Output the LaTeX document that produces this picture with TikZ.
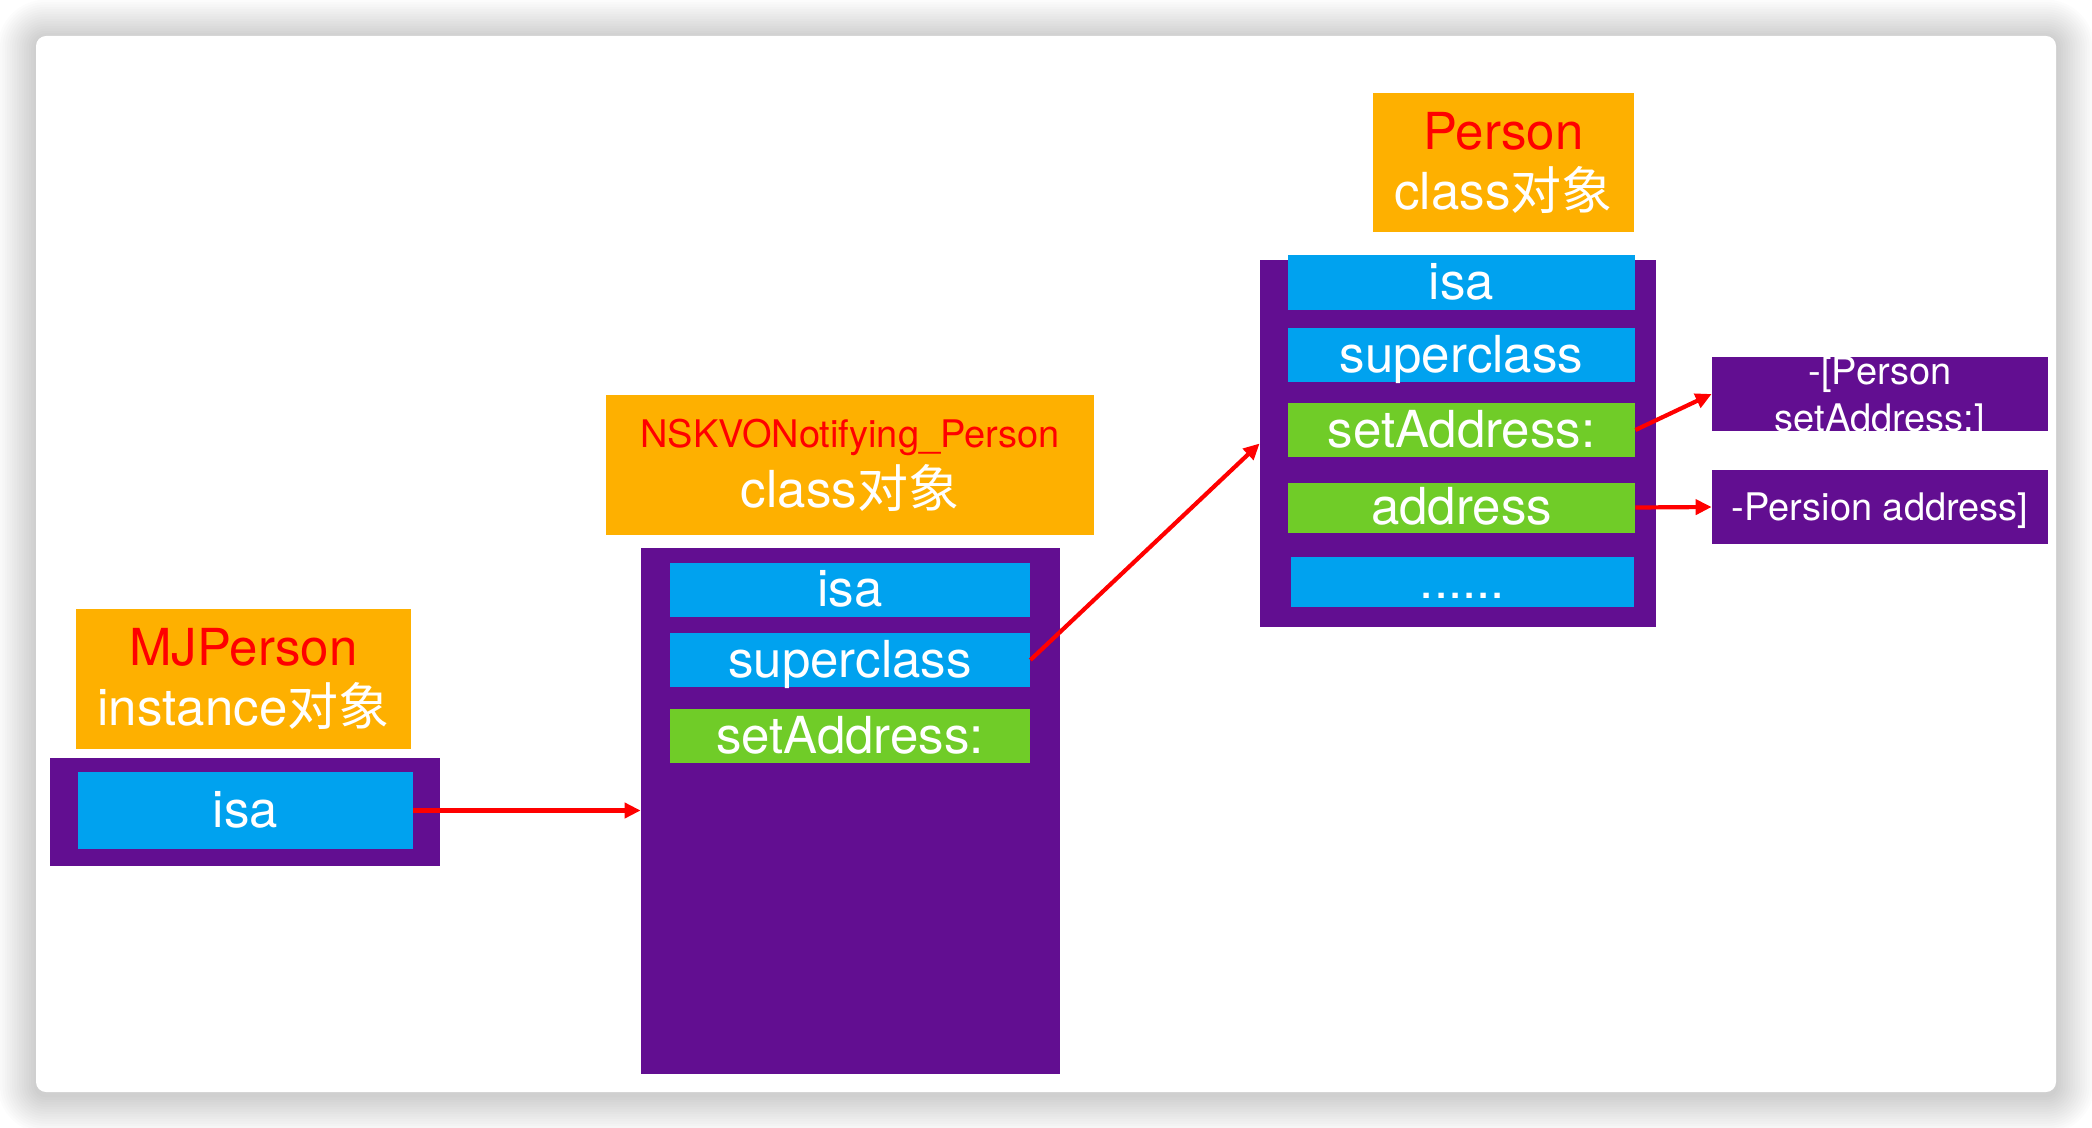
\documentclass[tikz,border=0pt]{standalone}
\usepackage{fontspec}
\setmainfont{TeX Gyre Heros}
\newfontfamily\zhfont{Noto Sans CJK SC}
\newcommand\zh[1]{{\zhfont #1}}
\usetikzlibrary{arrows.meta}
\usepackage{xcolor}
\definecolor{headorange}{RGB}{254,176,0}
\definecolor{boxpurple}{RGB}{98,14,145}
\definecolor{slotblue}{RGB}{0,162,239}
\definecolor{slotgreen}{RGB}{112,204,40}

\begin{document}
\begin{tikzpicture}[x=0.5pt,y=-0.5pt,
  head/.style={fill=headorange,inner sep=0pt,align=center,text=white,font=\fontsize{25.5}{30}\selectfont},
  frame/.style={fill=boxpurple,inner sep=0pt},
  slot/.style={inner sep=0pt,text=white,font=\fontsize{25.5}{30}\selectfont,text height=21pt,text depth=4pt},
  impbox/.style={fill=boxpurple,inner sep=0pt,text=white,font=\fontsize{19}{23.5}\selectfont},
  ptr/.style={red,line width=2.1pt,-{Triangle[length=8pt,width=7.5pt]}}]
  \useasboundingbox (0,0) rectangle (2092,1128);
  \fill[white] (0,0) rectangle (2092,1128);
  % card with soft shadow
  \foreach \i [evaluate=\i as \r using 5+1.2*\i] in {1,...,16}
    \fill[black,opacity=0.011,rounded corners=\r pt] (36-2.4*\i,38-2.4*\i) rectangle (2056+2.4*\i,1095+2.4*\i);
  \fill[white,rounded corners=5pt] (36,36) rectangle (2056,1092);

  % MJPerson instance
  \node[head,minimum width=167.5pt,minimum height=70pt] (mjhead) at (243.5,679) {\textcolor{red}{MJPerson}\\instance\zh{对象}};
  \node[frame,minimum width=195pt,minimum height=54pt] (mjbox) at (245,812) {};
  \node[slot,fill=slotblue,minimum width=167.5pt,minimum height=38.5pt] (mjisa) at (245.5,810.5) {isa};

  % NSKVONotifying_Person class
  \node[head,minimum width=244pt,minimum height=70pt] (kvohead) at (850,465) {{\color{red}\fontsize{19}{30}\selectfont NSKVONotifying\_Person}\\class\zh{对象}};
  \node[frame,minimum width=209.5pt,minimum height=263pt] (kvobox) at (850.5,811) {};
  \foreach \nm/\yy/\col/\txt in {kvoisa/589.5/slotblue/isa, kvosuper/660/slotblue/superclass, kvoset/736/slotgreen/setAddress:}
    \node[slot,fill=\col,minimum width=180pt,minimum height=27pt] (\nm) at (850,\yy) {\txt};

  % Person class
  \node[head,minimum width=130.5pt,minimum height=69.5pt] (phead) at (1503.5,162.5) {\textcolor{red}{Person}\\class\zh{对象}};
  \node[frame,minimum width=198pt,minimum height=183.5pt] (pbox) at (1458,443.5) {};
  \foreach \nm/\yy/\hh/\col/\txt in {pisa/282.5/27.5/slotblue/isa, psuper/355/27/slotblue/superclass, pset/430/27/slotgreen/setAddress:, paddr/507.5/24.5/slotgreen/address}
    \node[slot,fill=\col,minimum width=173.5pt,minimum height=\hh pt] (\nm) at (1461.5,\yy) {\txt};
  \node[slot,fill=slotblue,minimum width=171.5pt,minimum height=24.5pt] (pdots) at (1462.5,581.5) {......};

  % method implementations
  \node[impbox,minimum width=168pt,minimum height=37pt,
    path picture={\node[align=center,text=white,font=\fontsize{19}{23.5}\selectfont,yshift=-2pt] at (path picture bounding box.center) {-[Person\\setAddress:]};}] (imp1) at (1880,394) {};
  \node[impbox,text height=16pt,text depth=3pt,minimum width=168pt,minimum height=37pt] (imp2) at (1880,507) {-Persion address]};

  \draw[ptr] (mjisa.east) -- (mjisa.east -| kvobox.west);
  \draw[ptr] (kvosuper.east) -- (pbox.west);
  \draw[ptr] (pset.east) -- (imp1.west);
  \draw[ptr] (paddr.east) -- (imp2.west);
\end{tikzpicture}
\end{document}
